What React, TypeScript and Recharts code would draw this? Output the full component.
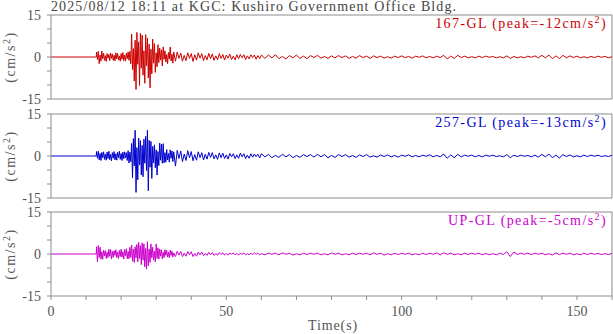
import React from 'react';
import { LineChart, Line, XAxis, YAxis, ReferenceLine } from 'recharts';

// sampling grid of the traces (s)
const sampleGrid = (start: number, end: number, step: number) =>
  Array.from({ length: Math.round((end - start) / step) + 1 }, (_, i) => +(start + i * step).toFixed(2));

const preEventTimes = [0, 12.9];
const burstTimes = sampleGrid(13, 35, 0.25); // 89 samples
const midTimes = sampleGrid(35.5, 60, 0.5); // 50 samples
const codaTimes = sampleGrid(61, 160, 1); // 100 samples
const times = [...preEventTimes, ...burstTimes, ...midTimes, ...codaTimes];

const preEvent = [0, 0];

// 167-GL (cm/s^2)
const gl167Burst = [
  1.8, -0.9, 2.0, -2.4, 0.7, -1.5, 2.1, -0.6,
  1.3, -1.2, 0.5, -1.6, 1.2, -0.4, 0.9, -1.3,
  1.4, -0.5, 1.1, -1.2, 0.6, -1.4, 1.5, -0.7,
  1.3, -1.1, 0.4, -1.5, 1.2, -0.8, 1.6, -1.3,
  0.7, -1.5, 1.4, -0.6, 1.8, -1.2, 2.0, -2.4,
  8.2, -4.5, 3.0, -8.6, 6.0, -11.6, 8.8, -2.6,
  5.4, -10.2, 8.4, -4.0, 7.8, -6.5, 2.2, -9.4,
  8.0, -3.2, 6.8, -7.5, 4.6, -11.0, 2.8, -6.0,
  6.4, -2.2, 4.8, -5.5, 1.5, -3.5, 4.4, -2.0,
  3.2, -1.1, 2.6, -3.2, 3.6, -0.8, 2.2, -1.8,
  0.9, -2.4, 1.6, -0.7, 3.6, -1.4, 1.0, -2.2,
  1.8,
];
const gl167Mid = [
  -1.5, 1.8, -0.5, 1.4, -1.5, 0.6, -1.3, 1.5, -0.5, 1.2,
  -1.6, 0.8, -1.1, 1.5, -0.4, 1.2, -1.3, 0.5, -1.0, 1.3,
  -0.6, 1.1, -1.2, 0.4, -1.0, 1.2, -0.5, 0.9, -1.1, 0.7,
  -0.4, 1.0, -0.9, 0.3, -1.0, 0.8, -0.6, 0.9, -0.3, 0.8,
  -0.9, 0.4, -0.7, 0.8, -0.2, 0.7, -0.8, 0.5, -0.6, 0.7,
];
const gl167Coda = [
  -0.5, 0.7, -0.3, 0.8, -0.6, 0.2, -0.7, 0.5, -0.3, 0.7,
  -0.5, 0.3, -0.6, 0.5, -0.2, 0.6, -0.4, 0.2, -0.5, 0.4,
  -0.3, 0.5, -0.2, 0.4, -0.5, 0.2, -0.4, 0.5, -0.2, 0.3,
  -0.5, 0.4, -0.2, 0.3, -0.4, 0.1, -0.4, 0.3, -0.2, 0.4,
  -0.2, 0.2, -0.4, 0.3, -0.1, 0.4, -0.3, 0.2, -0.3, 0.3,
  -0.2, 0.6, -0.7, 0.3, -0.5, 0.6, -0.2, 0.3, -0.3, 0.1,
  -0.3, 0.3, -0.2, 0.3, -0.1, 0.2, -0.3, 0.1, -0.3, 0.4,
  -0.5, 0.2, -0.3, 0.1, -0.3, 0.3, -0.1, 0.4, -0.3, 0.6,
  -0.3, 0.7, -0.6, 0.4, -0.6, 0.6, -0.3, 0.4, -0.2, 0.3,
  -0.3, 0.1, -0.3, 0.2, -0.2, 0.3, -0.1, 0.2, -0.3, 0.1,
];

// 257-GL (cm/s^2)
const gl257Burst = [
  1.6, -0.8, 1.7, -1.4, 0.9, -1.6, 1.3, -0.6,
  1.5, -1.2, 0.7, -1.5, 1.4, -0.9, 1.7, -1.3,
  0.6, -1.7, 1.2, -0.8, 1.6, -1.4, 0.8, -1.5,
  1.3, -0.6, 1.7, -1.2, 0.9, -1.6, 1.4, -1.0,
  1.5, -0.7, 1.2, -1.6, 1.9, -2.5, 1.4, -2.0,
  4.5, -7.8, 6.2, -3.5, 9.2, -13.0, 3.0, -8.5,
  6.4, -3.2, 5.5, -6.8, 3.8, -7.4, 6.0, -2.6,
  7.0, -5.2, 9.2, -12.4, 5.6, -4.0, 5.2, -8.0,
  3.4, -2.5, 4.0, -4.2, 2.2, -6.8, 1.6, -3.4,
  4.6, -1.5, 4.2, -2.6, 4.4, -2.5, 1.2, -2.2,
  2.3, -1.4, 0.9, -2.2, 2.2, -0.8, 1.8, -2.0,
  1.5,
];
const gl257Mid = [
  -3.6, 2.0, -0.9, 1.8, -2.0, 0.7, -1.6, 1.9, -0.6, 1.6,
  -1.7, 0.5, -1.5, 1.5, -0.6, 1.2, -1.4, 0.6, -1.1, 1.3,
  -0.5, 1.2, -1.0, 0.4, -1.2, 1.1, -0.6, 1.0, -0.9, 0.4,
  -1.1, 0.9, -0.3, 0.8, -0.9, 0.4, -0.8, 1.0, -0.3, 0.8,
  -0.9, 0.3, -0.8, 0.8, -0.4, 0.7, -0.2, 0.6, -0.7, 0.8,
];
const gl257Coda = [
  -0.3, 0.6, -0.6, 0.2, -0.5, 0.6, -0.3, 0.5, -0.6, 0.2,
  -0.5, 0.5, -0.2, 0.5, -0.4, 0.6, -0.3, 0.5, -0.6, 0.2,
  -0.5, 0.5, -0.2, 0.5, -0.4, 0.2, -0.5, 0.4, -0.2, 0.5,
  -0.4, 0.1, -0.4, 0.4, -0.2, 0.4, -0.3, 0.2, -0.4, 0.3,
  -0.1, 0.4, -0.3, 0.2, -0.3, 0.3, -0.1, 0.4, -0.3, 0.2,
  -0.3, 0.7, -0.8, 0.4, -0.6, 0.6, -0.3, 0.3, -0.1, 0.3,
  -0.3, 0.2, -0.3, 0.3, -0.1, 0.3, -0.2, 0.1, -0.3, 0.5,
  -0.6, 0.3, -0.2, 0.3, -0.1, 0.2, -0.3, 0.3, -0.4, 0.6,
  -0.3, 0.7, -0.6, 0.3, -0.7, 0.5, -0.2, 0.4, -0.3, 0.1,
  -0.3, 0.3, -0.2, 0.3, -0.1, 0.3, -0.2, 0.1, -0.2, 0.3,
];

// UP-GL (cm/s^2)
const upGlBurst = [
  2.6, -2.8, 3.0, -1.2, 2.4, -1.8, 0.8, -1.9,
  1.4, -0.7, 1.2, -1.6, 0.6, -1.3, 1.7, -0.8,
  1.6, -1.8, 0.9, -1.2, 1.2, -0.5, 1.5, -1.3,
  0.7, -1.6, 1.3, -0.9, 1.7, -1.1, 0.8, -1.8,
  1.6, -0.6, 1.9, -1.7, 0.9, -1.7, 2.4, -1.2,
  3.2, -2.6, 1.8, -3.0, 2.6, -1.4, 3.4, -2.8,
  4.2, -1.6, 3.0, -3.8, 4.0, -2.2, 3.6, -4.6,
  2.0, -5.4, 4.4, -4.2, 1.8, -3.0, 3.6, -1.4,
  2.4, -2.2, 1.0, -2.8, 3.6, -1.6, 2.2, -1.8,
  1.8, -0.8, 1.5, -1.7, 0.6, -1.3, 1.5, -0.5,
  1.3, -1.1, 0.6, -1.3, 1.4, -0.5, 1.0, -1.1,
  0.4,
];
const upGlMid = [
  -0.9, 1.0, -0.4, 0.9, -0.9, 0.3, -0.8, 0.9, -0.3, 0.8,
  -0.9, 0.2, -0.8, 0.7, -0.3, 0.7, -0.6, 0.2, -0.5, 0.6,
  -0.3, 0.5, -0.5, 0.2, -0.4, 0.5, -0.2, 0.4, -0.4, 0.2,
  -0.4, 0.4, -0.1, 0.4, -0.3, 0.2, -0.4, 0.3, -0.1, 0.4,
  -0.3, 0.1, -0.3, 0.3, -0.2, 0.4, -0.1, 0.3, -0.3, 0.1,
];
const upGlCoda = [
  -0.3, 0.3, -0.1, 0.3, -0.3, 0.4, -0.1, 0.3, -0.4, 0.1,
  -0.3, 0.3, -0.2, 0.3, -0.1, 0.3, -0.3, 0.1, -0.3, 0.4,
  -0.1, 0.3, -0.3, 0.1, -0.3, 0.3, -0.2, 0.3, -0.1, 0.3,
  -0.3, 0.4, -0.1, 0.3, -0.4, 0.1, -0.3, 0.3, -0.2, 0.3,
  -0.1, 0.3, -0.3, 0.1, -0.3, 0.3, -0.2, 0.3, -0.1, 0.4,
  -0.3, 0.4, -0.1, 0.3, -0.3, 0.1, -0.3, 0.3, -0.2, 0.3,
  -0.1, 0.3, -0.3, 0.2, -0.3, 0.1, -0.3, 0.3, -0.2, 0.8,
  -0.9, 0.7, -0.2, 0.3, -0.1, 0.3, -0.2, 0.3, -0.1, 0.3,
  -0.3, 0.1, -0.4, 0.4, -0.2, 0.3, -0.1, 0.3, -0.3, 0.1,
  -0.3, 0.3, -0.2, 0.3, -0.1, 0.2, -0.2, 0.1, -0.2, 0.2,
];

const gl167 = [...preEvent, ...gl167Burst, ...gl167Mid, ...gl167Coda];
const gl257 = [...preEvent, ...gl257Burst, ...gl257Mid, ...gl257Coda];
const upGl = [...preEvent, ...upGlBurst, ...upGlMid, ...upGlCoda];

const timeTicks = [0, 10, 20, 30, 40, 50, 60, 70, 80, 90, 100, 110, 120, 130, 140, 150, 160];
const timeLabels = [0, 50, 100, 150];
const accelTicks = [-15, -10, -5, 0, 5, 10, 15];
const accelLabels = [-15, 0, 15];

const records = times.map((t, i) => ({ t, gl167: gl167[i], gl257: gl257[i], upGl: upGl[i] }));

const FONT = '"Liberation Serif", "DejaVu Serif", serif';
const AXIS = '#8c8c8c';
const TEXT = '#555';

const AccelTick = (props: any) => {
  const { x, y, payload } = props;
  if (!accelLabels.includes(payload.value)) return <g />;
  return (
    <text x={x} y={y} dy="0.35em" textAnchor="end" fontSize={14} fontFamily={FONT} fill={TEXT}>
      {payload.value}
    </text>
  );
};

const TimeTick = (props: any) => {
  const { x, y, payload } = props;
  if (!timeLabels.includes(payload.value)) return <g />;
  return (
    <text x={x} y={y + 14} textAnchor="middle" fontSize={14} fontFamily={FONT} fill={TEXT}>
      {payload.value}
    </text>
  );
};

interface PanelProps {
  top: number;
  height: number;
  dataKey: string;
  color: string;
  xAxisHeight: number;
  showTimeLabels: boolean;
}

const Panel: React.FC<PanelProps> = ({ top, height, dataKey, color, xAxisHeight, showTimeLabels }) => (
  <div style={{ position: 'absolute', left: 0, top }}>
    <LineChart width={613} height={height} data={records} margin={{ top: 15, right: 1, bottom: 0, left: 0 }}>
      <XAxis
        dataKey="t"
        type="number"
        domain={[0, 160]}
        ticks={timeTicks}
        interval={0}
        height={xAxisHeight}
        stroke={AXIS}
        tickSize={4}
        tickMargin={2}
        tick={showTimeLabels ? <TimeTick /> : false}
      />
      <YAxis
        type="number"
        domain={[-15, 15]}
        ticks={accelTicks}
        interval={0}
        width={51}
        stroke={AXIS}
        tickSize={4}
        tickMargin={6}
        tick={<AccelTick />}
      />
      <ReferenceLine y={15} stroke={AXIS} />
      <ReferenceLine x={160} stroke={AXIS} />
      <Line
        type="linear"
        dataKey={dataKey}
        stroke={color}
        strokeWidth={1}
        dot={false}
        isAnimationActive={false}
      />
    </LineChart>
  </div>
);

const panels = [
  { key: 'gl167', name: '167-GL', peak: -12, color: '#cc0000', top: 0, height: 110, xAxisHeight: 11 },
  { key: 'gl257', name: '257-GL', peak: -13, color: '#0000cc', top: 99, height: 110, xAxisHeight: 11 },
  { key: 'upGl', name: 'UP-GL', peak: -5, color: '#cc00cc', top: 197, height: 137, xAxisHeight: 38 },
];

export default function App() {
  return (
    <div style={{ position: 'absolute', left: 0, top: 0, width: 613, height: 334, background: '#fff', fontFamily: FONT }}>
      {panels.map((p, i) => (
        <Panel
          key={p.key}
          top={p.top}
          height={p.height}
          dataKey={p.key}
          color={p.color}
          xAxisHeight={p.xAxisHeight}
          showTimeLabels={i === panels.length - 1}
        />
      ))}
      <svg width={613} height={334} style={{ position: 'absolute', left: 0, top: 0, pointerEvents: 'none' }}>
        <text x={51} y={11} fontSize={14} fontFamily={FONT} fill="#444" letterSpacing={1.1}>
          2025/08/12 18:11 at KGC: Kushiro Government Office Bldg.
        </text>
        {panels.map((p) => {
          const plotTop = p.top + 15;
          const mid = plotTop + 42;
          return (
            <g key={p.key}>
              <text x={607} y={plotTop + 13} textAnchor="end" fontSize={14} fontFamily={FONT} fill={p.color} letterSpacing={1.4}>
                {`${p.name} (peak=${p.peak}cm/s`}
                <tspan dy={-5} fontSize={10}>2</tspan>
                <tspan dy={5}>)</tspan>
              </text>
              <text
                x={15}
                y={mid}
                textAnchor="middle"
                fontSize={14}
                fontFamily={FONT}
                fill={TEXT}
                letterSpacing={1.5}
                transform={`rotate(-90, 15, ${mid})`}
              >
                (cm/s<tspan dy={-5} fontSize={10}>2</tspan>
                <tspan dy={5}>)</tspan>
              </text>
            </g>
          );
        })}
        <text x={333} y={330} textAnchor="middle" fontSize={14} fontFamily={FONT} fill={TEXT} letterSpacing={0.9}>
          Time(s)
        </text>
      </svg>
    </div>
  );
}
